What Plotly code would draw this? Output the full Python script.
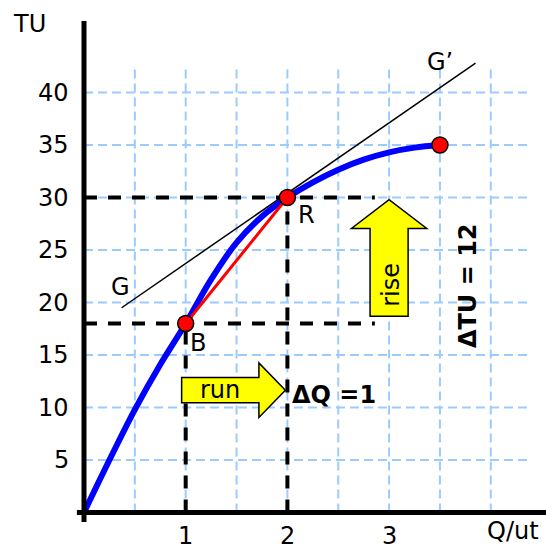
import plotly.graph_objects as go

# ---------------- data ----------------
q_curve = [0, 0.25, 0.5, 0.75, 1.0, 1.25, 1.5, 1.75, 2.0, 2.25, 2.5, 2.75, 3.0, 3.25, 3.5]
tu_curve = [0, 5.0, 9.8, 14.1, 18.0, 22.2, 25.7, 28.2, 30.0, 31.45, 32.65, 33.6, 34.3, 34.75, 35.0]

point_q = [1, 2, 3.5]
point_tu = [18, 30, 35]

chord_q = [1, 2]
chord_tu = [18, 30]

tangent_q = [0.37, 3.85]
tangent_tu = [19.5, 42.8]

y_ticks = [5, 10, 15, 20, 25, 30, 35, 40]
x_ticks = [1, 2, 3]
grid_q = [0.5, 1, 1.5, 2, 2.5, 3, 3.5, 4]
grid_tu = [5, 10, 15, 20, 25, 30, 35, 40]

# ---------------- figure ----------------
FONT = "DejaVu Sans"
GRID = "#9ccbff"
fig = go.Figure()

# light blue dashed grid
gx, gy = [], []
for q in grid_q:
    gx += [q, q, None]
    gy += [0, 42.6, None]
for t in grid_tu:
    gx += [0, 4.38, None]
    gy += [t, t, None]
fig.add_trace(go.Scatter(x=gx, y=gy, mode="lines",
                         line=dict(color=GRID, width=2, dash="9px,5px"),
                         hoverinfo="skip"))

# black dashed guide lines
bx = [0, 2.86, None, 0, 2.86, None, 1, 1, None, 2, 2, None]
by = [point_tu[0], point_tu[0], None, point_tu[1], point_tu[1], None,
      0, point_tu[0], None, 0, point_tu[1], None]
fig.add_trace(go.Scatter(x=bx, y=by, mode="lines",
                         line=dict(color="black", width=4, dash="13px,11px"),
                         hoverinfo="skip"))

# tangent line G-G'
fig.add_trace(go.Scatter(x=tangent_q, y=tangent_tu, mode="lines",
                         line=dict(color="black", width=1.5), hoverinfo="skip"))

# TU curve
fig.add_trace(go.Scatter(x=q_curve, y=tu_curve, mode="lines",
                         line=dict(color="#0000ff", width=6, shape="spline", smoothing=1.0),
                         hoverinfo="skip"))

# chord B-R
fig.add_trace(go.Scatter(x=chord_q, y=chord_tu, mode="lines",
                         line=dict(color="#ff0000", width=3), hoverinfo="skip"))

# points
fig.add_trace(go.Scatter(x=point_q, y=point_tu, mode="markers",
                         marker=dict(color="#ff0000", size=16,
                                     line=dict(color="black", width=1.5)),
                         hoverinfo="skip"))

# axes lines
fig.add_shape(type="line", x0=0, x1=0, y0=-0.9, y1=46.8,
              line=dict(color="black", width=5), layer="above")
fig.add_shape(type="line", x0=-0.07, x1=4.6, y0=0, y1=0,
              line=dict(color="black", width=5), layer="above")


# yellow arrows
def h_arrow(x0, x1, yc, bh, hh, hl):
    xb = x1 - hl
    return (f"M {x0},{yc-bh} L {xb},{yc-bh} L {xb},{yc-hh} L {x1},{yc} "
            f"L {xb},{yc+hh} L {xb},{yc+bh} L {x0},{yc+bh} Z")


def v_arrow(xc, y0, y1, bw, hw, hl):
    yb = y1 - hl
    return (f"M {xc-bw},{y0} L {xc-bw},{yb} L {xc-hw},{yb} L {xc},{y1} "
            f"L {xc+hw},{yb} L {xc+bw},{yb} L {xc+bw},{y0} Z")


fig.add_shape(type="path", path=h_arrow(0.96, 1.98, 11.65, 1.2, 2.6, 0.26),
              fillcolor="#ffff00", line=dict(color="black", width=1.5), layer="above")
fig.add_shape(type="path", path=v_arrow(3.0, 18.7, 29.8, 0.187, 0.37, 2.75),
              fillcolor="#ffff00", line=dict(color="black", width=1.5), layer="above")

anns = []
def txt(x, y, s, size=24, bold=False, xanchor="center", yanchor="middle", angle=0):
    anns.append(dict(x=x, y=y, text=f"<b>{s}</b>" if bold else s, showarrow=False,
                     xanchor=xanchor, yanchor=yanchor, textangle=angle,
                     font=dict(family=FONT, size=size, color="black")))

for t in y_ticks:
    txt(-0.128, t, str(t), xanchor="right")
for q in x_ticks:
    txt(q, -3.74, str(q), yanchor="bottom")
txt(-0.54, 46.5, "TU")
txt(4.22, -1.76, "Q/ut")
txt(0.354, 21.5, "G")
txt(3.5, 42.9, "G\u2019")
txt(2.19, 28.3, "R")
txt(1.12, 16.1, "B")
txt(1.34, 11.67, "run")
txt(3.02, 21.7, "rise", angle=-90)
txt(2.026, 11.2, "\u0394Q =1", bold=True, xanchor="left")
txt(3.77, 21.6, "\u0394TU = 12", bold=True, angle=-90)

fig.update_layout(
    width=546, height=552,
    margin=dict(l=0, r=0, t=0, b=0),
    paper_bgcolor="white", plot_bgcolor="white",
    showlegend=False,
    annotations=anns,
    xaxis=dict(range=[-0.826, 4.543], visible=False, fixedrange=True),
    yaxis=dict(range=[-3.762, 48.81], visible=False, fixedrange=True),
)

fig.write_html("out.html", config={"displayModeBar": False},
               post_script="document.body.style.margin='0';")
